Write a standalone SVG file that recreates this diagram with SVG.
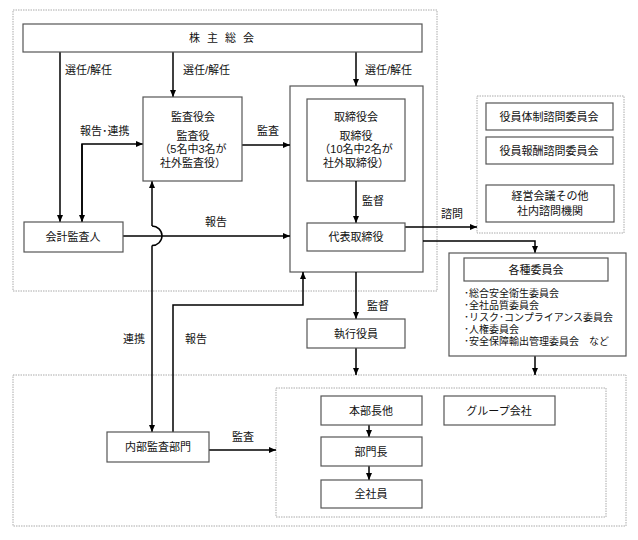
<svg xmlns="http://www.w3.org/2000/svg" width="638" height="540" viewBox="0 0 638 540">
<defs>
<marker id="ah" markerUnits="userSpaceOnUse" markerWidth="8" markerHeight="8" refX="7" refY="4" orient="auto">
<path d="M0,1 L7,4 L0,7 Z" fill="#000"/>
</marker>
<style>
text{font-family:"Liberation Sans","Noto Sans CJK JP",sans-serif;font-size:11px;fill:#111;}
.c{text-anchor:middle;}
.s{font-size:10px;}
.box{fill:#fff;stroke:#555;stroke-width:1.2;}
.frame{fill:none;stroke:#555;stroke-width:1.2;}
.dot{fill:none;stroke:#aaa;stroke-width:1;stroke-dasharray:1.5 1;}
.ln{fill:none;stroke:#000;stroke-width:1.5;}
.ar{fill:none;stroke:#000;stroke-width:1.5;marker-end:url(#ah);}
</style>
</defs>
<rect width="638" height="540" fill="#fff"/>

<g id="frames">
<rect class="dot" x="13" y="10" width="424" height="281"/>
<rect class="dot" x="477" y="96" width="147" height="137"/>
<rect class="dot" x="13" y="375" width="613" height="151"/>
<rect class="dot" x="276" y="388" width="330" height="129"/>
</g>

<g id="board">
<rect class="frame" x="290" y="86" width="133" height="186"/>
<rect class="box" x="307" y="99" width="98" height="82"/>
<text class="c" x="356" y="121">取締役会</text>
<text class="c" x="356" y="140">取締役</text>
<text class="c" x="356" y="153">（10名中2名が</text>
<text class="c" x="356" y="167">社外取締役）</text>
</g>

<g id="connectors">
<path class="ar" d="M60,52 V222"/>
<path class="ar" d="M173,52 V97"/>
<path class="ar" d="M356,52 V86"/>
<path class="ar" d="M82,222 V144 H143"/>
<path class="ar" d="M82,144 V222"/>
<path class="ar" d="M242,145 H290"/>
<path class="ar" d="M123,236 H290"/>
<path class="ar" d="M152,226 V181"/>
<path class="ln" d="M152,226 A10,9.8 0 0 1 152,245.6"/>
<path class="ar" d="M152,245.6 V432"/>
<path class="ar" d="M173,432 V305 H303 V272"/>
<path class="ar" d="M356,181 V223"/>
<path class="ar" d="M405,227 H477"/>
<path class="ar" d="M423,241 H535 V253"/>
<path class="ar" d="M356,272 V319"/>
<path class="ar" d="M356,348 V375"/>
<path class="ar" d="M535,356 V375"/>
<path class="ar" d="M209,450 H276"/>
<path class="ar" d="M369,425 V437"/>
<path class="ar" d="M369,466 V480"/>
</g>

<g id="labels">
<text x="65" y="74">選任/解任</text>
<text x="183" y="74">選任/解任</text>
<text x="365" y="74">選任/解任</text>
<text x="80" y="135">報告･連携</text>
<text x="257" y="135">監査</text>
<text x="205" y="226">報告</text>
<text x="362" y="205">監督</text>
<text x="441" y="218">諮問</text>
<text x="123" y="343">連携</text>
<text x="185" y="343">報告</text>
<text x="367" y="310">監督</text>
<text x="232" y="441">監査</text>
</g>

<g id="shareholders">
<rect class="box" x="23" y="24" width="399" height="28"/>
<text class="c" x="225" y="42" style="letter-spacing:7px">株主総会</text>
</g>

<g id="auditboard">
<rect class="box" x="143" y="97" width="99" height="84"/>
<text class="c" x="193" y="121">監査役会</text>
<text class="c" x="193" y="140">監査役</text>
<text class="c" x="193" y="153">（5名中3名が</text>
<text class="c" x="193" y="167">社外監査役）</text>
</g>

<g id="representative">
<rect class="box" x="307" y="223" width="98" height="28"/>
<text class="c" x="356" y="241">代表取締役</text>
</g>

<g id="accountingauditor">
<rect class="box" x="24" y="222" width="99" height="30"/>
<text class="c" x="73" y="241">会計監査人</text>
</g>

<g id="advisory1">
<rect class="box" x="486" y="103" width="127" height="27"/>
<text class="c" x="549" y="121">役員体制諮問委員会</text>
</g>
<g id="advisory2">
<rect class="box" x="486" y="137" width="127" height="27"/>
<text class="c" x="549" y="155">役員報酬諮問委員会</text>
</g>
<g id="advisory3">
<rect class="box" x="486" y="185" width="128" height="37"/>
<text class="c" x="550" y="200">経営会議その他</text>
<text class="c" x="550" y="215">社内諮問機関</text>
</g>

<g id="committees">
<rect class="box" x="449" y="253" width="177" height="103"/>
<rect class="box" x="464" y="258" width="144" height="23"/>
<text class="c" x="536" y="274">各種委員会</text>
<text class="s" x="464" y="297">･総合安全衛生委員会</text>
<text class="s" x="464" y="309">･全社品質委員会</text>
<text class="s" x="464" y="321">･リスク･コンプライアンス委員会</text>
<text class="s" x="464" y="333">･人権委員会</text>
<text class="s" x="464" y="345">･安全保障輸出管理委員会　など</text>
</g>

<g id="executive">
<rect class="box" x="307" y="319" width="98" height="29"/>
<text class="c" x="356" y="338">執行役員</text>
</g>

<g id="internalaudit">
<rect class="box" x="107" y="432" width="102" height="30"/>
<text class="c" x="158" y="451">内部監査部門</text>
</g>

<g id="divisionheads">
<rect class="box" x="321" y="396" width="101" height="29"/>
<text class="c" x="371" y="415">本部長他</text>
</g>
<g id="groupcompanies">
<rect class="box" x="444" y="396" width="111" height="29"/>
<text class="c" x="499" y="415">グループ会社</text>
</g>
<g id="deptheads">
<rect class="box" x="321" y="437" width="101" height="29"/>
<text class="c" x="371" y="456">部門長</text>
</g>
<g id="employees">
<rect class="box" x="321" y="480" width="101" height="28"/>
<text class="c" x="371" y="498">全社員</text>
</g>
</svg>
